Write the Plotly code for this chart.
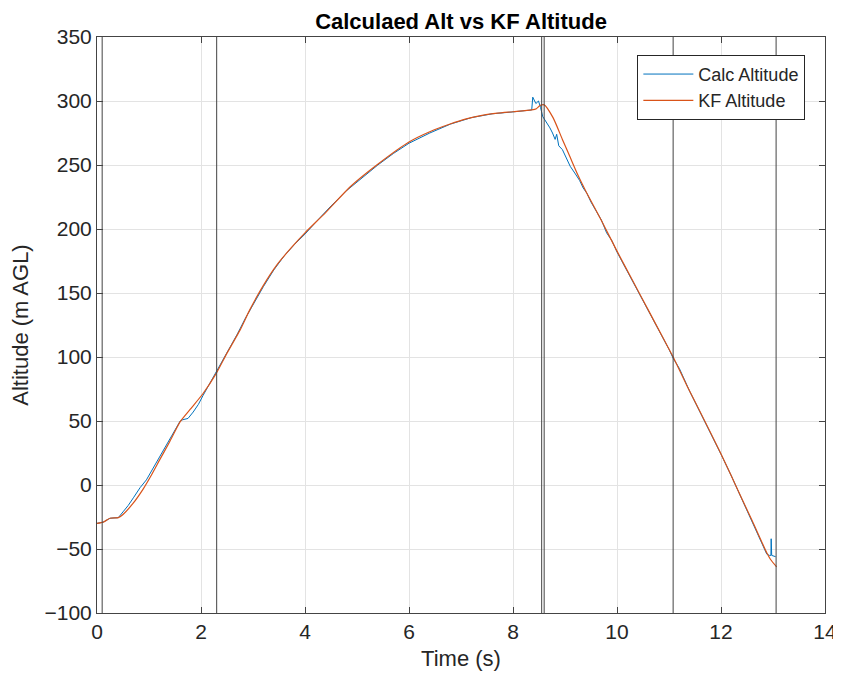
import plotly.graph_objects as go

# KF altitude estimate
t_kf = [0, 0.12, 0.25, 0.41, 0.5, 0.7, 0.89, 1.05, 1.21, 1.4, 1.6, 1.79, 2.04, 2.29, 2.5,
        2.75, 2.94, 3.2, 3.46, 3.75, 4.0, 4.4, 4.87, 5.38, 6.0, 6.4, 6.79, 7.1, 7.43, 7.7, 8.0,
        8.36, 8.45, 8.52, 8.6, 8.77, 8.95, 9.1, 9.25, 9.42, 9.7, 9.99, 10.3, 10.6, 10.9,
        11.08, 11.34, 11.6, 11.98, 12.2, 12.37, 12.6, 12.88, 12.95, 13.07]
alt_kf = [-30, -29, -26, -25.5, -23, -14, -3, 8, 20, 34, 49.5, 59, 71.5, 87, 103,
          121, 137, 156, 172, 186, 197, 213, 233, 250, 268, 276, 282, 286, 289, 290.5, 291.6,
          293, 294, 296.5, 297, 287, 270, 256, 242, 228, 206.6, 183.5, 159.7, 136.8, 113.8,
          100, 78, 57, 26, 7, -8, -28, -53, -58, -64]

# calculated altitude (noisy)
t_calc = [0, 0.12, 0.25, 0.41, 0.5, 0.6, 0.7, 0.83, 0.95, 1.05, 1.2, 1.3, 1.4, 1.5, 1.6,
          1.65, 1.75, 1.85, 1.95, 2.04, 2.15, 2.29, 2.4, 2.55, 2.7, 2.85, 3.0, 3.2, 3.4,
          3.6, 3.8, 4.0, 4.2, 4.5, 4.8, 5.1, 5.4, 5.7, 6.0, 6.4, 6.8, 7.2, 7.6, 8.0,
          8.36, 8.38, 8.44, 8.49, 8.53, 8.57, 8.65, 8.71, 8.76, 8.81, 8.84, 8.88, 8.95,
          9.0, 9.1, 9.2, 9.28, 9.35, 9.42, 9.5, 9.6, 9.7, 9.8, 9.9, 10.0, 10.2, 10.4,
          10.6, 10.8, 11.0, 11.08, 11.2, 11.4, 11.6, 11.8, 12.0, 12.2, 12.3, 12.4, 12.5,
          12.6, 12.7, 12.8, 12.88, 12.93, 12.96, 12.965, 12.975, 13.05]
alt_calc = [-30, -29, -26, -25.5, -21, -16, -10, -2, 4, 11, 22, 28, 36, 43, 50,
            51, 52, 57, 63, 70, 78, 88, 97, 108, 118, 130, 141, 155, 168,
            179, 188, 196, 205, 218, 230, 240, 250, 259, 267, 275, 282, 287, 290, 291.5,
            293, 303, 298, 300, 295, 288, 283, 279, 275, 270, 274, 265, 262,
            258, 249, 243, 238, 232, 228, 221, 214, 207, 197, 191, 182, 167, 152,
            137, 121, 106, 99, 91, 73, 57, 41, 24, 7, -2, -11, -19,
            -28, -37, -46, -54, -55, -55, -42, -55, -56]

# event markers
events = [0.1, 2.3, 8.55, 8.6, 11.08, 13.06]

fig = go.Figure()
fig.add_trace(go.Scatter(x=t_calc, y=alt_calc, mode='lines', name='Calc Altitude',
                         line=dict(color='#0072BD', width=1)))
fig.add_trace(go.Scatter(x=t_kf, y=alt_kf, mode='lines', name='KF Altitude',
                         line=dict(color='#D95319', width=1.2, shape='spline', smoothing=0.6)))
for x in events:
    fig.add_vline(x=x, line=dict(color='rgba(70,70,70,0.85)', width=1.2))

# page body adds an 8px offset, so size the figure to fit the window
fig.update_layout(
    width=833, height=678,
    margin=dict(l=89, r=16, t=29, b=73),
    paper_bgcolor='white', plot_bgcolor='white',
    font=dict(family='Liberation Sans, Arial', size=21, color='#262626'),
    title=dict(text='<b>Calculaed Alt vs KF Altitude</b>', x=0.5, xref='paper',
               y=0.981, yanchor='middle', font=dict(size=22, color='black')),
    legend=dict(x=0.973, y=0.969, xanchor='right', yanchor='top',
                bgcolor='white', bordercolor='#262626', borderwidth=1,
                font=dict(size=18), tracegroupgap=0, itemwidth=50),
    showlegend=True,
)
fig.update_xaxes(range=[0, 14], dtick=2, showgrid=True, gridcolor='#e3e3e3',
                 showline=True, linecolor='#444', mirror='ticks', ticks='inside',
                 ticklen=6, tickcolor='#444', zeroline=False, automargin=False,
                 tickfont=dict(size=21),
                 title=dict(text='Time (s)', standoff=8, font=dict(size=22)))
fig.update_yaxes(range=[-100, 350], dtick=50, showgrid=True, gridcolor='#e3e3e3',
                 showline=True, linecolor='#444', mirror='ticks', ticks='inside',
                 ticklen=6, tickcolor='#444', zeroline=False, automargin=False,
                 tickfont=dict(size=21),
                 title=dict(text='Altitude (m AGL)', standoff=12, font=dict(size=22)))

fig.write_html("out.html")
